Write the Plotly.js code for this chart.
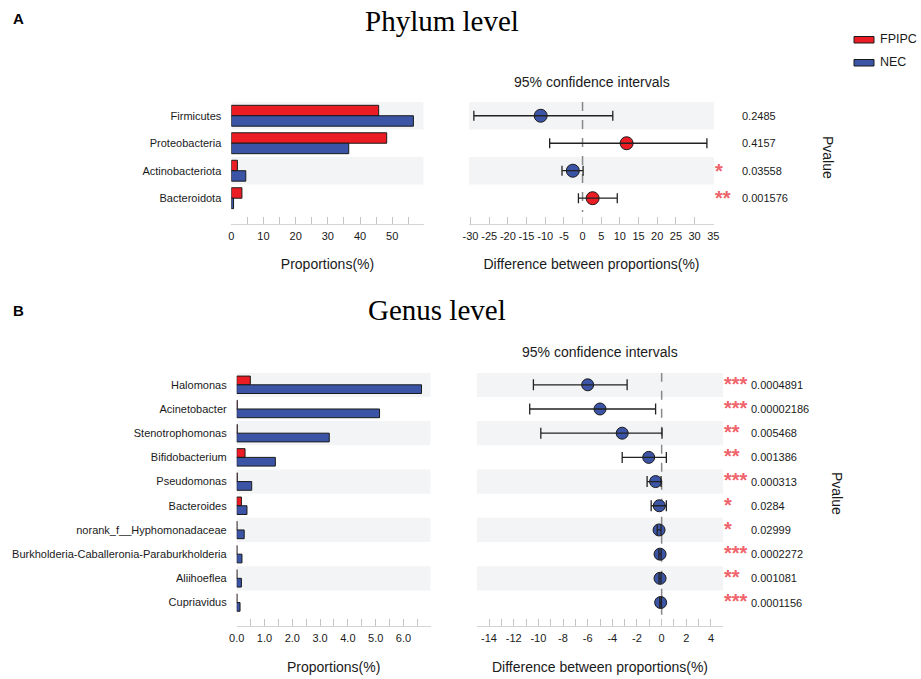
<!DOCTYPE html>
<html><head><meta charset="utf-8">
<script src="https://cdn.plot.ly/plotly-3.0.1.min.js"></script>
<style>html,body{margin:0;padding:0;background:#fff}#chart{width:921px;height:679px}</style>
</head><body><div id="chart"></div>
<script>
// ---------- data ----------
const groupNames = ['FPIPC', 'NEC'];

const phyla = ['Firmicutes', 'Proteobacteria', 'Actinobacteriota', 'Bacteroidota'];
const phylumFPIPC = [45.8, 48.3, 1.9, 3.3];
const phylumNEC = [56.6, 36.5, 4.5, 0.7];
const phylumDiff = [-11.2, 11.8, -2.6, 2.7];
const phylumCILow = [-29.1, -8.8, -5.5, -1.1];
const phylumCIHigh = [8.1, 33.3, 0.15, 9.3];
const phylumP = ['0.2485', '0.4157', '0.03558', '0.001576'];
const phylumStars = ['', '', '*', '**'];

const genera = ['Halomonas', 'Acinetobacter', 'Stenotrophomonas', 'Bifidobacterium', 'Pseudomonas',
  'Bacteroides', 'norank_f__Hyphomonadaceae', 'Burkholderia-Caballeronia-Paraburkholderia', 'Aliihoeflea', 'Cupriavidus'];
const genusFPIPC = [0.49, 0.02, 0.02, 0.30, 0.02, 0.17, 0.01, 0.01, 0.01, 0.01];
const genusNEC = [6.65, 5.14, 3.33, 1.39, 0.54, 0.37, 0.27, 0.19, 0.17, 0.12];
const genusDiff = [-6.0, -5.0, -3.2, -1.05, -0.49, -0.19, -0.21, -0.13, -0.13, -0.08];
const genusCILow = [-10.4, -10.7, -9.8, -3.2, -1.18, -0.85, -0.36, -0.22, -0.21, -0.15];
const genusCIHigh = [-2.8, -0.49, 0.03, 0.38, -0.05, 0.38, -0.05, -0.04, -0.05, -0.02];
const genusP = ['0.0004891', '0.00002186', '0.005468', '0.001386', '0.000313', '0.0284', '0.02999', '0.0002272', '0.001081', '0.0001156'];
const genusStars = ['***', '***', '**', '**', '***', '*', '*', '***', '**', '***'];

// tick values / labels
const phylumBarTickVals = [0, 5, 10, 15, 20, 25, 30, 35, 40, 45, 50, 55];
const phylumBarTickText = ['0', '', '10', '', '20', '', '30', '', '40', '', '50', ''];
const phylumDiffTickVals = [-30, -25, -20, -15, -10, -5, 0, 5, 10, 15, 20, 25, 30, 35];
const phylumDiffTickText = ['-30', '-25', '-20', '-15', '-10', '-5', '0', '5', '10', '15', '20', '25', '30', '35'];
const genusBarTickVals = [0, 0.5, 1, 1.5, 2, 2.5, 3, 3.5, 4, 4.5, 5, 5.5, 6, 6.5];
const genusBarTickText = ['0.0', '', '1.0', '', '2.0', '', '3.0', '', '4.0', '', '5.0', '', '6.0', ''];
const genusDiffTickVals = [-15, -14, -13, -12, -11, -10, -9, -8, -7, -6, -5, -4, -3, -2, -1, 0, 1, 2, 3, 4, 5];
const genusDiffTickText = ['', '-14', '', '-12', '', '-10', '', '-8', '', '-6', '', '-4', '', '-2', '', '0', '', '2', '', '4', ''];

// ---------- styling ----------
const RED = '#ec1c24', BLUE = '#3b54a5', EDGE = '#1a1a1a', BAND = '#f3f4f6', STAR = '#f0636b';
const W = 921, H = 679;
const px = v => v / W, py = v => 1 - v / H;
const FONT = 'Liberation Sans, Arial, sans-serif';

function barTraces(names, a, b, xa, ya, w) {
  return [
    {type: 'bar', orientation: 'h', name: groupNames[0], x: a, y: names, xaxis: xa, yaxis: ya,
     width: w, offset: -w, marker: {color: RED, line: {color: EDGE, width: 1}}, showlegend: false, hoverinfo: 'x+y'},
    {type: 'bar', orientation: 'h', name: groupNames[1], x: b, y: names, xaxis: xa, yaxis: ya,
     width: w, offset: 0, marker: {color: BLUE, line: {color: EDGE, width: 1}}, showlegend: false, hoverinfo: 'x+y'}
  ];
}
function ciTraces(names, d, lo, hi, xa, ya, size, cap) {
  return [
    {type: 'scatter', mode: 'markers', x: d, y: names, xaxis: xa, yaxis: ya, showlegend: false,
     marker: {size: size, color: d.map(v => v > 0 ? RED : BLUE), line: {color: EDGE, width: 1}}},
    {type: 'scatter', mode: 'markers', x: d, y: names, xaxis: xa, yaxis: ya, showlegend: false, hoverinfo: 'skip',
     marker: {size: size, opacity: 0},
     error_x: {type: 'data', symmetric: false, array: d.map((v, i) => hi[i] - v),
               arrayminus: d.map((v, i) => v - lo[i]), color: '#222', thickness: 1.3, width: cap}}
  ];
}

const data = [].concat(
  barTraces(phyla, phylumFPIPC, phylumNEC, 'x', 'y', 0.38),
  ciTraces(phyla, phylumDiff, phylumCILow, phylumCIHigh, 'x2', 'y2', 13, 5),
  barTraces(genera, genusFPIPC, genusNEC, 'x3', 'y3', 0.36),
  ciTraces(genera, genusDiff, genusCILow, genusCIHigh, 'x4', 'y4', 12, 5.5)
);

// bands + zero lines
const shapes = [];
function bands(n, xa, ya, x0, x1) {
  for (let i = 0; i < n; i += 2) {
    shapes.push({type: 'rect', xref: xa, yref: ya, x0: x0, x1: x1, y0: i - 0.5, y1: i + 0.5,
      fillcolor: BAND, line: {width: 0}, layer: 'below'});
  }
}
const rA1 = [0, 59.8], rA2 = [-30.4, 35.2], rB1 = [0, 6.98], rB2 = [-15, 5];
bands(phyla.length, 'x', 'y', rA1[0], rA1[1]);
bands(phyla.length, 'x2', 'y2', rA2[0], rA2[1]);
bands(genera.length, 'x3', 'y3', rB1[0], rB1[1]);
bands(genera.length, 'x4', 'y4', rB2[0], rB2[1]);
shapes.push({type: 'line', xref: 'x2', yref: 'y2', x0: 0, x1: 0, y0: -0.5, y1: phyla.length - 0.5,
  line: {color: '#888', width: 1.5, dash: 'dash'}, layer: 'below'});
shapes.push({type: 'line', xref: 'x4', yref: 'y4', x0: 0, x1: 0, y0: -0.5, y1: genera.length - 0.5,
  line: {color: '#888', width: 1.5, dash: 'dash'}, layer: 'below'});
// legend swatches
shapes.push({type: 'rect', xref: 'paper', yref: 'paper', x0: px(854), x1: px(874), y0: py(43), y1: py(36.5),
  fillcolor: RED, line: {color: EDGE, width: 1}});
shapes.push({type: 'rect', xref: 'paper', yref: 'paper', x0: px(854), x1: px(874), y0: py(66), y1: py(59.5),
  fillcolor: BLUE, line: {color: EDGE, width: 1}});

const annotations = [];
function ann(o) {
  annotations.push(Object.assign({showarrow: false, xanchor: 'center', yanchor: 'middle',
    font: {family: FONT, size: 11, color: '#1a1a1a'}}, o));
}
ann({text: '<b>A</b>', xref: 'paper', yref: 'paper', x: px(18), y: py(18), font: {family: FONT, size: 15, color: '#000'}});
ann({text: '<b>B</b>', xref: 'paper', yref: 'paper', x: px(18), y: py(311), font: {family: FONT, size: 15, color: '#000'}});
ann({text: 'Phylum level', xref: 'paper', yref: 'paper', x: px(442), y: py(21), font: {family: 'Liberation Serif, Times New Roman, serif', size: 29, color: '#000'}});
ann({text: 'Genus level', xref: 'paper', yref: 'paper', x: px(437), y: py(310), font: {family: 'Liberation Serif, Times New Roman, serif', size: 29, color: '#000'}});
ann({text: '95% confidence intervals', xref: 'paper', yref: 'paper', x: px(591.5), y: py(82), font: {family: FONT, size: 14, color: '#1a1a1a'}});
ann({text: '95% confidence intervals', xref: 'paper', yref: 'paper', x: px(600), y: py(352), font: {family: FONT, size: 14, color: '#1a1a1a'}});
ann({text: 'Pvalue', xref: 'paper', yref: 'paper', x: px(828), y: py(157), textangle: 90, font: {family: FONT, size: 14, color: '#1a1a1a'}});
ann({text: 'Pvalue', xref: 'paper', yref: 'paper', x: px(837), y: py(493), textangle: 90, font: {family: FONT, size: 14, color: '#1a1a1a'}});
ann({text: groupNames[0], xref: 'paper', yref: 'paper', x: px(878), y: py(38.5), xanchor: 'left', font: {family: FONT, size: 12.5, color: '#1a1a1a'}});
ann({text: groupNames[1], xref: 'paper', yref: 'paper', x: px(878), y: py(61.5), xanchor: 'left', font: {family: FONT, size: 12.5, color: '#1a1a1a'}});
phyla.forEach((c, i) => {
  ann({text: phylumP[i], xref: 'paper', yref: 'y2', x: px(740), y: i, xanchor: 'left'});
  if (phylumStars[i]) ann({text: '<b>' + phylumStars[i] + '</b>', xref: 'paper', yref: 'y2', x: px(713), y: i, xanchor: 'left',
    font: {family: FONT, size: 20, color: STAR}});
});
genera.forEach((c, i) => {
  ann({text: genusP[i], xref: 'paper', yref: 'y4', x: px(749), y: i, xanchor: 'left'});
  if (genusStars[i]) ann({text: '<b>' + genusStars[i] + '</b>', xref: 'paper', yref: 'y4', x: px(722), y: i - 0.05, xanchor: 'left',
    font: {family: FONT, size: 20, color: STAR}});
});

function xAxis(domain, range, anchor, tv, tt, title) {
  return {domain: domain, range: range, anchor: anchor, tickmode: 'array', tickvals: tv, ticktext: tt,
    ticks: 'inside', ticklen: 7, tickcolor: '#c4c4c4', tickwidth: 1, showline: true, linecolor: '#d4d4d4', linewidth: 1,
    showgrid: false, zeroline: false, fixedrange: true, ticklabelstandoff: 2,
    tickfont: {family: FONT, size: 11, color: '#1a1a1a'},
    title: {text: title, font: {family: FONT, size: 14, color: '#1a1a1a'}, standoff: 18}};
}
function yAxis(domain, cats, anchor, showLabels, range) {
  return {domain: domain, anchor: anchor, type: 'category', categoryarray: cats, categoryorder: 'array',
    range: range, showgrid: false, zeroline: false, showline: false,
    ticks: '', showticklabels: showLabels, ticklabelstandoff: 9, fixedrange: true,
    tickfont: {family: FONT, size: 11, color: '#1a1a1a'}};
}

const domA = [py(223.5), py(102)], domB = [py(626), py(372.7)];
const yrA = [3.92, -0.5], yrB = [9.97, -0.5];
const layout = {
  width: W, height: H, margin: {l: 0, r: 0, t: 0, b: 0}, paper_bgcolor: '#fff', plot_bgcolor: 'rgba(0,0,0,0)',
  font: {family: FONT, color: '#1a1a1a'}, showlegend: false, barmode: 'overlay',
  xaxis: xAxis([px(231.3), px(423.7)], rA1, 'y', phylumBarTickVals, phylumBarTickText, 'Proportions(%)'),
  yaxis: yAxis(domA, phyla, 'x', true, yrA),
  xaxis2: xAxis([px(469), px(714)], rA2, 'y2', phylumDiffTickVals, phylumDiffTickText, 'Difference between proportions(%)'),
  yaxis2: yAxis(domA, phyla, 'x2', false, yrA),
  xaxis3: xAxis([px(236.7), px(430.7)], rB1, 'y3', genusBarTickVals, genusBarTickText, 'Proportions(%)'),
  yaxis3: yAxis(domB, genera, 'x3', true, yrB),
  xaxis4: xAxis([px(476.7), px(723.3)], rB2, 'y4', genusDiffTickVals, genusDiffTickText, 'Difference between proportions(%)'),
  yaxis4: yAxis(domB, genera, 'x4', false, yrB),
  shapes: shapes, annotations: annotations
};
Plotly.newPlot('chart', data, layout, {displayModeBar: false, staticPlot: true});
</script>
</body></html>
